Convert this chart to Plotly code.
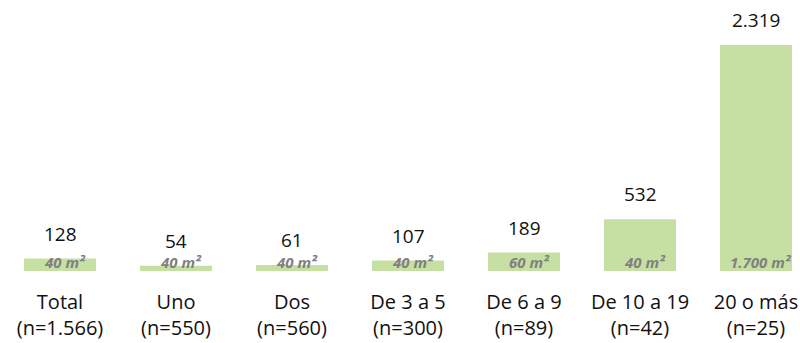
import plotly.graph_objects as go

categories = ["Total", "Uno", "Dos", "De 3 a 5", "De 6 a 9", "De 10 a 19", "20 o más"]
sample_sizes = ["1.566", "550", "560", "300", "89", "42", "25"]
values = [128, 54, 61, 107, 189, 532, 2319]
area_labels = ["40 m²", "40 m²", "40 m²", "40 m²", "60 m²", "40 m²", "1.700 m²"]

x_labels = [f"{c}<br>(n={n})" for c, n in zip(categories, sample_sizes)]

def fmt(v):
    return f"{v:,}".replace(",", ".")

fig = go.Figure()
fig.add_trace(go.Bar(
    x=x_labels, y=values,
    marker=dict(color="#c6e0a4", line=dict(width=0)),
    hoverinfo="skip",
))

annotations = []
for xl, v, a in zip(x_labels, values, area_labels):
    annotations.append(dict(
        x=xl, y=v, xref="x", yref="y", text=fmt(v), showarrow=False,
        yanchor="bottom", yshift=11, borderpad=0,
        font=dict(family="Open Sans", size=19, color="#111111"),
    ))
    annotations.append(dict(
        x=xl, y=0, xref="x", yref="y", text=f"<b><i>{a}</i></b>", showarrow=False,
        yanchor="bottom", yshift=-2, xshift=5, borderpad=0,
        font=dict(family="Open Sans", size=15, color="#808080"),
    ))

fig.update_layout(
    width=800, height=343,
    margin=dict(l=0, r=0, t=0, b=72),
    paper_bgcolor="white", plot_bgcolor="white",
    bargap=0.379,
    showlegend=False,
    annotations=annotations,
    xaxis=dict(
        range=[-60/116, (800-60)/116],
        showgrid=False, zeroline=False, showline=False, ticks="",
        tickfont=dict(family="Open Sans", size=20, color="#111111"),
        ticklabelstandoff=17,
    ),
    yaxis=dict(
        range=[0, 2319*271/226],
        visible=False, showgrid=False, zeroline=False,
    ),
)

fig.write_html("out.html")
